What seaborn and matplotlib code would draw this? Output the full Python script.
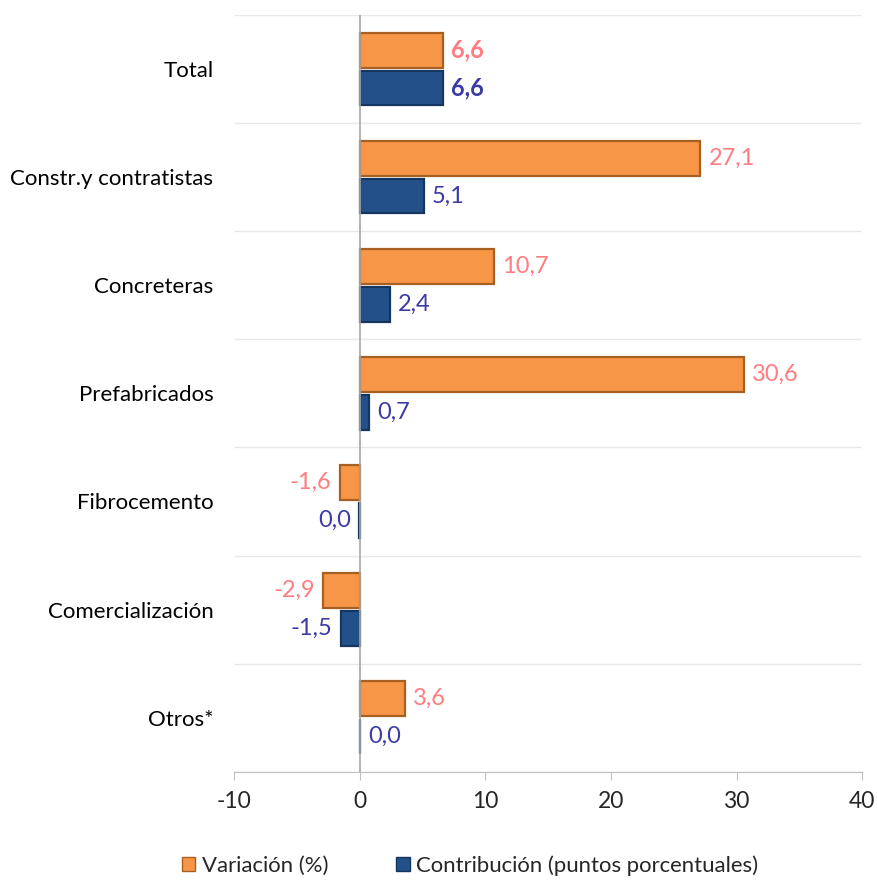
import pandas as pd
import matplotlib.pyplot as plt
import seaborn as sns
from matplotlib.patches import Patch

# =========================
# DATOS
# =========================
categorias = ["Total", "Constr.y contratistas", "Concreteras", "Prefabricados",
              "Fibrocemento", "Comercialización", "Otros*"]
variacion = [6.6, 27.1, 10.7, 30.6, -1.6, -2.9, 3.6]
contribucion = [6.6, 5.1, 2.4, 0.7, -0.03, -1.5, 0.03]
etiq_variacion = ["6,6", "27,1", "10,7", "30,6", "-1,6", "-2,9", "3,6"]
etiq_contribucion = ["6,6", "5,1", "2,4", "0,7", "0,0", "-1,5", "0,0"]
series = ["Variación (%)", "Contribución (puntos porcentuales)"]

NARANJA = "#F79646"
AZUL = "#24508A"
COLOR_TXT = {series[0]: "#FF7C80", series[1]: "#3B3BA6"}


def build_df():
    df = pd.DataFrame({
        "categoria": categorias * 2,
        "valor": variacion + contribucion,
        "serie": [series[0]] * len(categorias) + [series[1]] * len(categorias),
    })
    return df


def plot_chart(df):
    sns.set_style("white")
    plt.rcParams["font.family"] = ["Lato", "DejaVu Sans"]
    plt.rcParams["axes.unicode_minus"] = False

    fig = plt.figure(figsize=(8.77, 8.83), dpi=100)
    ax = fig.add_axes([0.267, 0.126, 0.716, 0.857])

    sns.barplot(data=df, y="categoria", x="valor", hue="serie", orient="h",
                palette=[NARANJA, AZUL], saturation=1, width=0.7, gap=0.08,
                ax=ax, legend=False, order=categorias, hue_order=series)

    edges = ["#A85F22", "#15365F"]
    for cont, edge, etiq, serie in zip(ax.containers, edges,
                                       [etiq_variacion, etiq_contribucion], series):
        for bar in cont:
            bar.set_edgecolor(edge)
            bar.set_linewidth(1.6)
        textos = ax.bar_label(cont, labels=etiq, padding=6, fontsize=17,
                              color=COLOR_TXT[serie])
        # Total en negrita
        textos[0].set_fontweight("bold")

    ax.set_xlim(-10, 40)
    ax.set_ylim(len(categorias) - 0.5, -0.5)
    ax.set_xticks(range(-10, 41, 10))
    ax.set_xticks([], minor=True)
    ax.set_yticks([i + 0.5 for i in range(-1, len(categorias))], minor=True)
    ax.grid(axis="y", which="minor", color="#E8E8E8", linewidth=1)
    ax.grid(axis="x", visible=False)
    ax.grid(axis="y", which="major", visible=False)
    ax.axvline(0, color="#A6A6A6", linewidth=1.2, zorder=1)

    ax.set_xlabel("")
    ax.set_ylabel("")
    for s in ["top", "right", "left"]:
        ax.spines[s].set_visible(False)
    ax.spines["bottom"].set_color("#BFBFBF")
    ax.tick_params(axis="x", which="major", length=6, color="#BFBFBF",
                   labelsize=16.5, labelcolor="#262626", pad=8, bottom=True)
    ax.tick_params(axis="y", which="both", length=0, labelsize=16,
                   labelcolor="#000000", pad=15)

    handles = [Patch(facecolor=NARANJA, edgecolor="#A85F22"),
               Patch(facecolor=AZUL, edgecolor="#15365F")]
    fig.legend(handles, series, loc="center", bbox_to_anchor=(0.536, 0.02),
               ncol=2, frameon=False, fontsize=15.9, handlelength=0.6,
               handleheight=0.6, handletextpad=0.3, columnspacing=3.1)

    fig.savefig("out.png", dpi=100)


def main():
    df = build_df()
    plot_chart(df)


if __name__ == "__main__":
    main()
